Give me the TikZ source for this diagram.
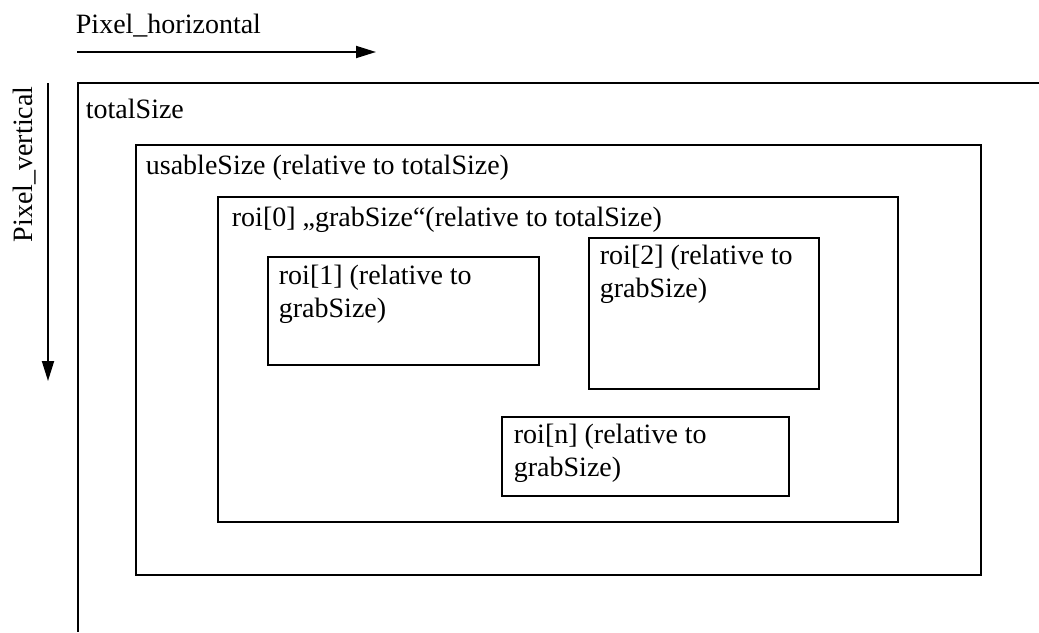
\documentclass[tikz,border=0pt]{standalone}
\usepackage{fontspec}
\setmainfont{Liberation Serif}
\usetikzlibrary{arrows.meta}

\begin{document}
\begin{tikzpicture}[x=1pt,y=-1pt,line width=1.8pt,
    font=\fontsize{28}{33}\selectfont,
    lbl/.style={anchor=base west,inner sep=0pt,align=left},
    axis/.style={-{Triangle[length=20pt,width=12pt]}}]
  % --- picture size (px = pt)
  \def\W{1039}
  \def\H{632}
  \useasboundingbox (0,0) rectangle (\W,\H);

  %---------------------------------------
  % axes
  \coordinate (hstart) at (77,52);
  \coordinate (hend)   at (376,52);
  \draw[axis] (hstart) -- (hend);
  \node[lbl] (hlabel) at (75,33) {Pixel\_horizontal};

  \coordinate (vstart) at (48,83);
  \coordinate (vend)   at (48,381);
  \draw[axis] (vstart) -- (vend);
  \node[lbl,rotate=90] (vlabel) at (32,243) {Pixel\_vertical};

  %---------------------------------------
  % totalSize (open to the right and bottom)
  \coordinate (total-ne) at (\W,83);
  \coordinate (total-nw) at (78,83);
  \coordinate (total-sw) at (78,\H);
  \draw (total-ne) -- (total-nw) -- (total-sw);
  \node[lbl] (total) at (85,118) {totalSize};

  % usableSize
  \coordinate (usable-nw) at (136,145);
  \coordinate (usable-se) at (981,575);
  \draw (usable-nw) rectangle (usable-se);
  \node[lbl] (usable) at (145,174) {usableSize (relative to totalSize)};

  %---------------------------------------
  % roi[0] = grabSize
  \coordinate (roi0-nw) at (218,197);
  \coordinate (roi0-se) at (898,522);
  \draw (roi0-nw) rectangle (roi0-se);
  \node[lbl] (roi0) at (231,226) {roi[0] „grabSize“(relative to totalSize)};

  % roi[1]  (base = last line)
  \coordinate (roi1-nw) at (268,257);
  \coordinate (roi1-se) at (539,365);
  \draw (roi1-nw) rectangle (roi1-se);
  \node[lbl] (roi1) at (278,317) {roi[1] (relative to\\grabSize)};

  % roi[2]
  \coordinate (roi2-nw) at (589,238);
  \coordinate (roi2-se) at (819,389);
  \draw (roi2-nw) rectangle (roi2-se);
  \node[lbl] (roi2) at (599,297) {roi[2] (relative to\\grabSize)};

  % roi[n]
  \coordinate (roin-nw) at (502,417);
  \coordinate (roin-se) at (789,496);
  \draw (roin-nw) rectangle (roin-se);
  \node[lbl] (roin) at (513,476) {roi[n] (relative to\\grabSize)};
\end{tikzpicture}
\end{document}
